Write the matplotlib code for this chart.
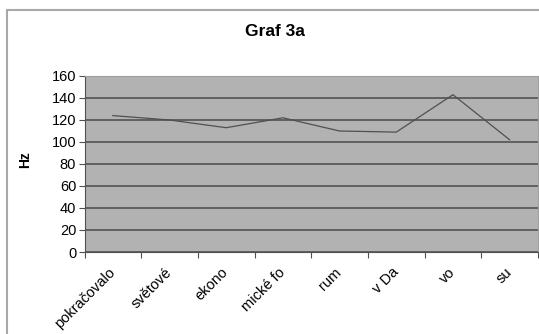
import matplotlib.pyplot as plt
from matplotlib.patches import Rectangle
from matplotlib.ticker import FixedLocator, NullFormatter

# data
categories = ['pokračovalo', 'světové', 'ekono', 'mické fo', 'rum', 'v Da', 'vo', 'su']
hz_values = [124, 120, 113, 122, 110, 109, 143, 102]
y_ticks = [0, 20, 40, 60, 80, 100, 120, 140, 160]

plt.rcParams['font.family'] = ['Liberation Sans', 'DejaVu Sans']

fig = plt.figure(figsize=(5.39, 3.34), dpi=100)
fig.patch.set_facecolor('white')

# chart frame (cut off on right and bottom like the original)
fig.patches.append(Rectangle((7 / 539, -0.1), 1.2, 0.97 + 0.1,
                             transform=fig.transFigure, fill=False,
                             edgecolor='#a8a8a8', linewidth=1.5))

ax = fig.add_axes([84.5 / 539, 1 - 252 / 334, (538 - 84.5) / 539, (252 - 76) / 334])
ax.set_facecolor('#b2b2b2')

x = list(range(len(categories)))
ax.plot(x, hz_values, color='#505050', linewidth=0.9)

ax.set_xlim(-0.5, len(categories) - 0.5)
ax.set_ylim(0, 160)
ax.set_yticks(y_ticks)
ax.grid(axis='y', color='#4a4a4a', linewidth=1.1)
ax.set_axisbelow(True)

# category boundaries get the tick marks, labels sit in the middle
ax.xaxis.set_major_locator(FixedLocator([i - 0.5 for i in range(len(categories) + 1)]))
ax.xaxis.set_major_formatter(NullFormatter())
ax.xaxis.set_minor_locator(FixedLocator(x))
ax.set_xticklabels(categories, minor=True, rotation=45, ha='right', va='center',
                   rotation_mode='anchor', fontsize=10.5)
ax.tick_params(axis='x', which='minor', length=0, pad=13)
ax.tick_params(axis='x', which='major', length=4, color='#505050', direction='out')
ax.tick_params(axis='y', labelsize=10.5, length=4, color='#505050', pad=2)

for side in ['left', 'bottom']:
    ax.spines[side].set_color('#505050')
for side in ['top', 'right']:
    ax.spines[side].set_color('#a0a0a0')

fig.text(25 / 539, 1 - 160 / 334, 'Hz', rotation=90, ha='center', va='center',
         fontsize=10, fontweight='bold')
fig.text(275 / 539, 1 - 32 / 334, 'Graf 3a', ha='center', va='center',
         fontsize=12.5, fontweight='bold')

fig.savefig('out.png', dpi=100)
